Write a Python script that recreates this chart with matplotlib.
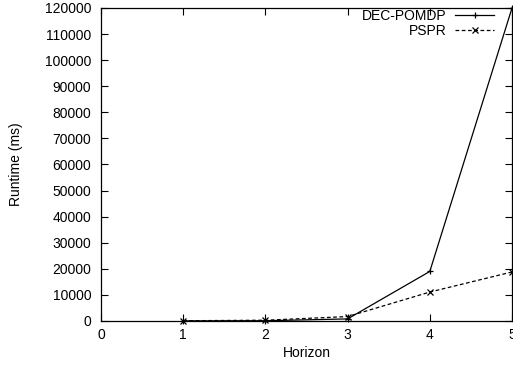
import matplotlib
matplotlib.use("Agg")
import matplotlib.pyplot as plt

plt.rcParams["font.family"] = "Liberation Sans"
plt.rcParams["font.size"] = 10

horizon = [1, 2, 3, 4, 5]
dec_pomdp = [50, 100, 800, 19000, 120000]
pspr = [100, 300, 1700, 11100, 18800]

fig = plt.figure(figsize=(5.13, 3.67), dpi=100)
ax = fig.add_axes([101 / 513, 1 - 321 / 367, 411 / 513, 313 / 367])

ax.plot(horizon, dec_pomdp, color="black", lw=0.9, marker="+", ms=5,
        mew=0.9, label="DEC-POMDP", clip_on=False)
ax.plot(horizon, pspr, color="black", lw=0.9, ls=(0, (3, 2)), marker="x",
        ms=4, mew=0.9, label="PSPR", clip_on=False)

ax.set_xlim(0, 5)
ax.set_ylim(0, 120000)
ax.set_xticks(range(0, 6))
ax.set_yticks(range(0, 120001, 10000))
ax.tick_params(axis="y", direction="in", right=True, length=5, width=0.8,
               pad=7)
ax.tick_params(axis="x", direction="in", top=True, length=5, width=0.8,
               pad=5)
for s in ax.spines.values():
    s.set_linewidth(0.9)

ax.set_xlabel("Horizon", labelpad=3)
ax.set_ylabel("Runtime (ms)", labelpad=16)

ax.legend(loc="upper right", frameon=False, markerfirst=False,
          handlelength=2.8, handletextpad=0.65, borderaxespad=0.0,
          labelspacing=0.1, bbox_to_anchor=(0.97, 1.015))

fig.savefig("out.png", dpi=100)
